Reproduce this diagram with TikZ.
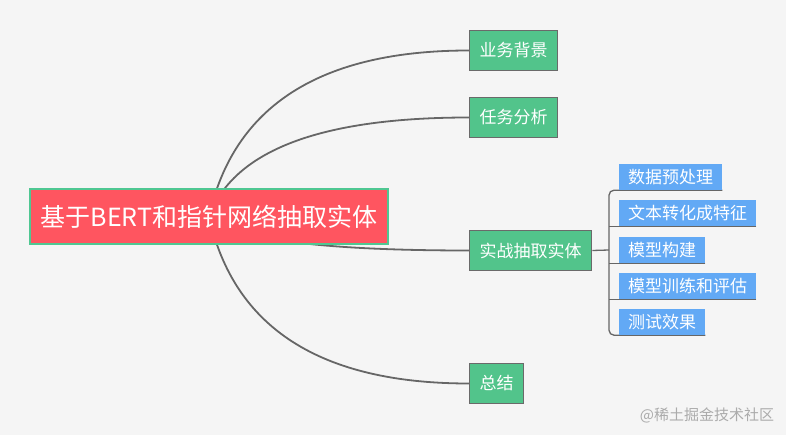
\documentclass[tikz,border=0pt]{standalone}
\usepackage{fontspec}
\setmainfont{Noto Sans CJK SC}
\usetikzlibrary{calc,backgrounds}
\definecolor{bgc}{HTML}{F5F5F5}
\definecolor{rootred}{HTML}{FF5560}
\definecolor{rootedge}{HTML}{4FC792}
\definecolor{topicgreen}{HTML}{52C48B}
\definecolor{topicedge}{HTML}{6A6A6A}
\definecolor{subblue}{HTML}{62A9F5}
\definecolor{linkgray}{HTML}{666666}
\definecolor{markgray}{HTML}{ABABAB}
\tikzset{
  rootbox/.style={draw=rootedge, line width=2.5pt, fill=rootred, text=white,
    minimum width=358pt, minimum height=55pt, inner sep=0pt,
    font=\fontsize{25}{29}\selectfont},
  topic/.style={draw=topicedge, line width=1.4pt, fill=topicgreen, text=white,
    minimum height=40pt, inner xsep=10pt, inner ysep=0pt, anchor=west,
    font=\fontsize{17}{20}\selectfont},
  sub/.style={fill=subblue, text=white, minimum height=26pt, inner xsep=9pt,
    inner ysep=0pt, anchor=west, font=\fontsize{17}{20}\selectfont},
  link/.style={draw=linkgray, line width=1.8pt},
  brace/.style={draw=linkgray, line width=1.3pt},
  wmark/.style={text=markgray, font=\fontsize{15}{18}\selectfont}
}
\begin{document}
\begin{tikzpicture}[x=1pt,y=-1pt]
\useasboundingbox (0,0) rectangle (786,435);
\node[rootbox] (root) at (209,216.5) {基于BERT和指针网络抽取实体};
\node[topic] (t1) at (469,50.5) {业务背景};
\node[topic] (t2) at (469,117.5) {任务分析};
\node[topic] (t3) at (469,250.5) {实战抽取实体};
\node[topic] (t4) at (469,383.5) {总结};
\node[sub] (c1) at (619,177) {数据预处理};
\node[sub] (c2) at (619,213) {文本转化成特征};
\node[sub] (c3) at (619,250) {模型构建};
\node[sub] (c4) at (619,286) {模型训练和评估};
\node[sub] (c5) at (619,322) {测试效果};
\node[wmark] (wm) at (707,415) {@稀土掘金技术社区};
\coordinate (bx) at (609,250);
\begin{scope}[on background layer]
  \fill[bgc] (0,0) rectangle (786,435);
  \foreach \t in {t1,t2,t3,t4}{
    \coordinate (q) at ($(root.center |- \t.west)+(37,0)$);
    \draw[link] (root.center) .. controls ($(root.center)!2/3!(q)$) and ($(\t.west)!2/3!(q)$) .. (\t.west);
  }
  \draw[brace] (t3.east) -- (bx);
  \draw[brace, rounded corners=5pt] (c1.south east) -- (c1.south west -| bx) -- (c5.south west -| bx) -- (c5.south east);
  \foreach \c in {c2,c3,c4}{
    \draw[brace] (\c.south east) -- (\c.south west -| bx);
  }
\end{scope}
\end{tikzpicture}
\end{document}
